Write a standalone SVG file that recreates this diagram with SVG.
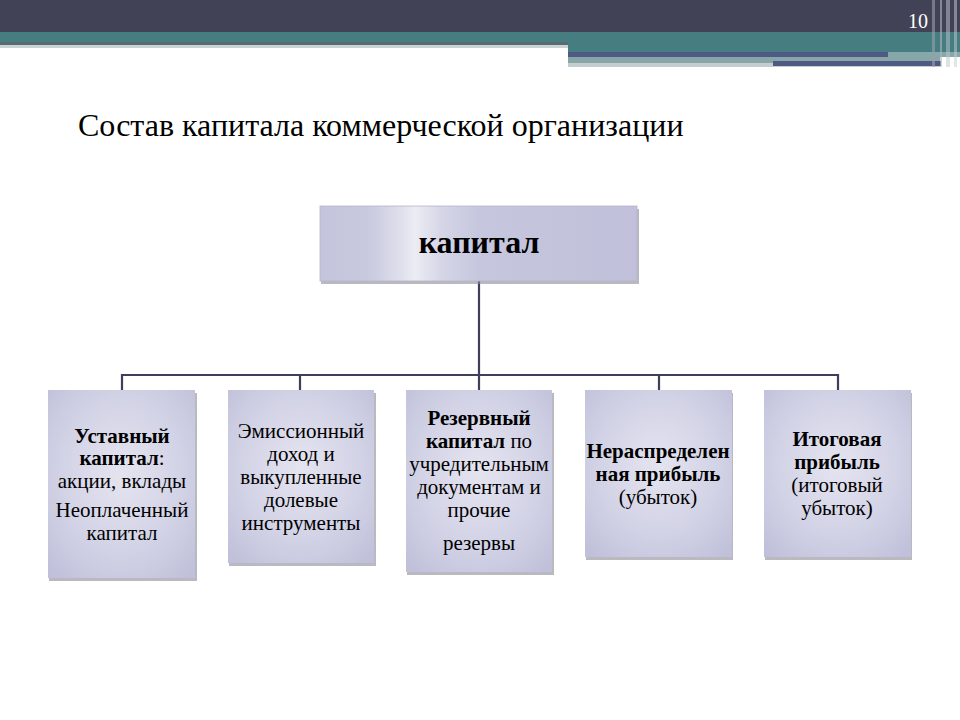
<svg xmlns="http://www.w3.org/2000/svg" width="960" height="720" viewBox="0 0 960 720">
<defs>
  <radialGradient id="boxg" cx="50%" cy="45%" r="70%">
    <stop offset="0" stop-color="#e4e4f0"/>
    <stop offset="0.6" stop-color="#d2d2e6"/>
    <stop offset="1" stop-color="#c0c0da"/>
  </radialGradient>
  <linearGradient id="topg" x1="0" y1="0" x2="1" y2="0">
    <stop offset="0" stop-color="#c4c4dc"/>
    <stop offset="0.15" stop-color="#c8c8df"/>
    <stop offset="0.25" stop-color="#dedeec"/>
    <stop offset="0.3" stop-color="#ececf4"/>
    <stop offset="0.38" stop-color="#d6d6e8"/>
    <stop offset="0.5" stop-color="#c6c6de"/>
    <stop offset="1" stop-color="#c0c0da"/>
  </linearGradient>
</defs>
<style>
  .shadow { fill: #8a8a94; opacity: 0.6; }
  .box { fill: url(#boxg); }
  .t { font-family: "Liberation Serif", "Times New Roman", "DejaVu Serif", serif; fill: #000; text-anchor: middle; font-size: 21px; }
  .b { font-weight: bold; }
  .big { font-size: 32px; }
  .conn { stroke: #3f3f5c; stroke-width: 2.2; fill: none; }
</style>
<rect x="0" y="0" width="960" height="720" fill="#ffffff"/>
<g id="header">
  <rect x="0" y="0" width="960" height="32" fill="#424257"/>
  <rect x="0" y="32" width="568" height="10" fill="#457d80"/>
  <rect x="0" y="42" width="568" height="3" fill="#5a6a6e"/>
  <rect x="0" y="45" width="568" height="3" fill="#c9d2d4"/>
  <rect x="568" y="32" width="392" height="20" fill="#457d80"/>
  <rect x="568" y="52" width="320" height="5" fill="#4f5a84"/>
  <rect x="888" y="52" width="72" height="5" fill="#86a8aa"/>
  <rect x="568" y="57" width="372" height="6" fill="#88a6a8"/>
  <rect x="568" y="63" width="372" height="4" fill="#c4ced0"/>
  <rect x="773" y="61" width="168" height="5" fill="#4f5a84"/>
  <rect x="932" y="0" width="3" height="67" fill="#9aa0a8" opacity="0.6"/>
  <rect x="940" y="0" width="2" height="67" fill="#b0b6bc" opacity="0.6"/>
  <rect x="946" y="0" width="4" height="67" fill="#c0c6cc" opacity="0.5"/>
  <rect x="954" y="0" width="3" height="67" fill="#c8ccd2" opacity="0.5"/>
  <text x="928" y="28" font-family="'Liberation Serif', serif" font-size="20" fill="#ffffff" text-anchor="end">10</text>
</g>
<text id="title" x="78" y="136" font-family="'Liberation Serif', 'Times New Roman', serif" font-size="32" fill="#000">Состав капитала коммерческой организации</text>
<g id="connectors">
  <path class="conn" d="M479 281 V375 M122 375 H838 M122 374 V390 M300 374 V390 M479 374 V390 M659 374 V390 M838 374 V390"/>
</g>
<g id="node-capital">
  <rect class="shadow" x="321" y="209" width="318" height="75"/>
  <rect x="320" y="206" width="317" height="75" fill="url(#topg)" stroke="#b4b4cc" stroke-width="0.8"/>
  <text class="t b big" x="479" y="253">капитал</text>
</g>
<g id="node-ustavny">
  <rect class="shadow" x="49" y="393" width="148" height="188"/>
  <rect class="box" x="48" y="390" width="147" height="188"/>
  <text class="t" x="122" y="443"><tspan class="b">Уставный</tspan></text>
  <text class="t" x="122" y="465"><tspan class="b">капитал</tspan>:</text>
  <text class="t" x="122" y="488">акции, вклады</text>
  <text class="t" x="122" y="517">Неоплаченный</text>
  <text class="t" x="122" y="540">капитал</text>
</g>
<g id="node-emission">
  <rect class="shadow" x="229" y="393" width="147" height="173"/>
  <rect class="box" x="228" y="390" width="146" height="173"/>
  <text class="t" x="301" y="438">Эмиссионный</text>
  <text class="t" x="301" y="461">доход и</text>
  <text class="t" x="301" y="484">выкупленные</text>
  <text class="t" x="301" y="507">долевые</text>
  <text class="t" x="301" y="530">инструменты</text>
</g>
<g id="node-reserve">
  <rect class="shadow" x="407" y="393" width="147" height="182"/>
  <rect class="box" x="406" y="390" width="146" height="182"/>
  <text class="t" x="479" y="425"><tspan class="b">Резервный</tspan></text>
  <text class="t" x="479" y="448"><tspan class="b">капитал</tspan> по</text>
  <text class="t" x="479" y="471">учредительным</text>
  <text class="t" x="479" y="494">документам и</text>
  <text class="t" x="479" y="517">прочие</text>
  <text class="t" x="479" y="550">резервы</text>
</g>
<g id="node-retained">
  <rect class="shadow" x="586" y="393" width="147" height="167"/>
  <rect class="box" x="585" y="390" width="147" height="167"/>
  <text class="t b" x="658" y="458">Нераспределен</text>
  <text class="t b" x="658" y="481">ная прибыль</text>
  <text class="t" x="658" y="504">(убыток)</text>
</g>
<g id="node-total">
  <rect class="shadow" x="765" y="393" width="147" height="167"/>
  <rect class="box" x="764" y="390" width="147" height="167"/>
  <text class="t b" x="837" y="446">Итоговая</text>
  <text class="t b" x="837" y="469">прибыль</text>
  <text class="t" x="837" y="492">(итоговый</text>
  <text class="t" x="837" y="515">убыток)</text>
</g>
</svg>
